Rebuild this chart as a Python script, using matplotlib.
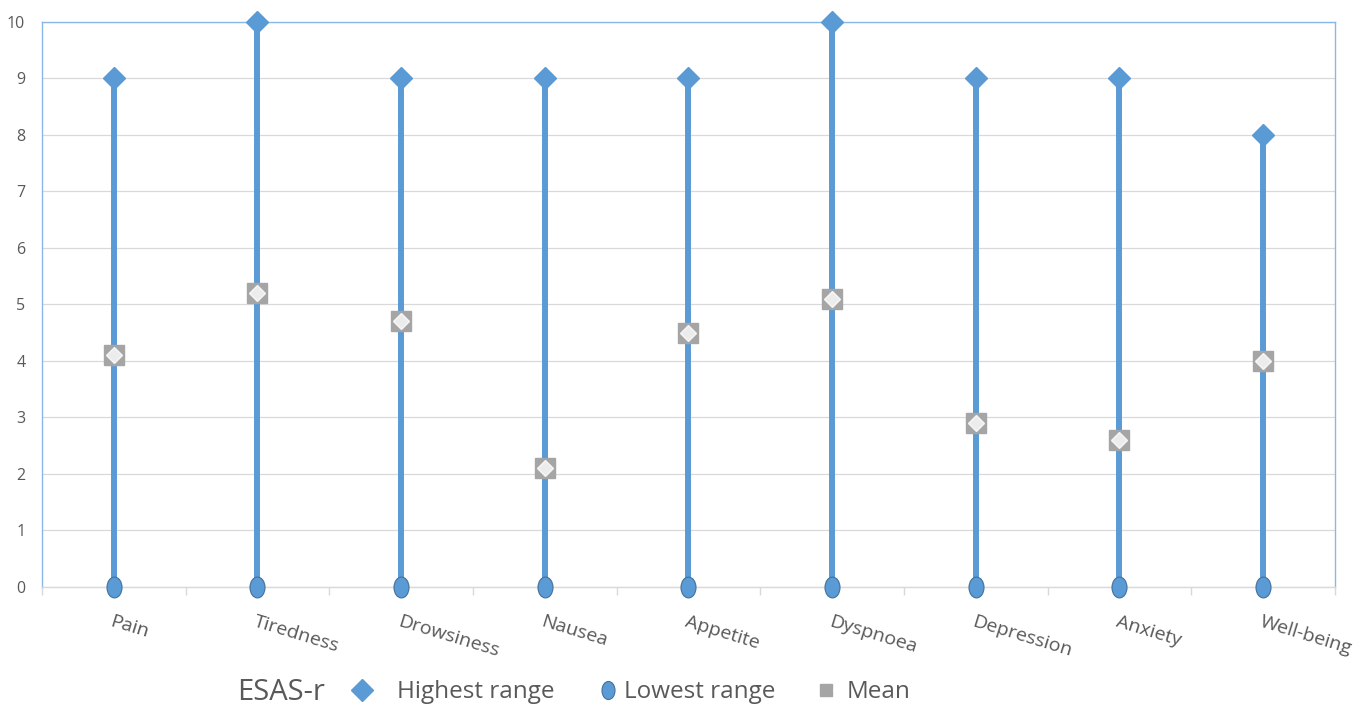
import matplotlib.pyplot as plt
import numpy as np
from matplotlib.path import Path
from matplotlib.transforms import Affine2D
from matplotlib.lines import Line2D
from matplotlib.legend_handler import HandlerTuple

symptoms = ['Pain', 'Tiredness', 'Drowsiness', 'Nausea', 'Appetite',
            'Dyspnoea', 'Depression', 'Anxiety', 'Well-being']
highest = [9, 10, 9, 9, 9, 10, 9, 9, 8]
lowest = [0, 0, 0, 0, 0, 0, 0, 0, 0]
mean = [4.1, 5.2, 4.7, 2.1, 4.5, 5.1, 2.9, 2.6, 4.0]

BLUE = '#5b9bd5'
DARK_BLUE = '#41719c'
GRAY = '#a5a5a5'
TEXT = '#595959'

plt.rcParams['font.family'] = ['Open Sans', 'DejaVu Sans']

# tall ellipse marker for the lowest value
ellipse = Path.unit_circle().transformed(Affine2D().scale(0.72, 1.0))

fig = plt.figure(figsize=(13.71, 7.05), dpi=100)
ax = fig.add_axes([0.0306, 0.1674, 0.9431, 0.8014])

x = np.arange(len(symptoms))
ax.vlines(x, lowest, highest, color=BLUE, linewidth=4.3, zorder=2)
ax.plot(x, highest, linestyle='none', marker='D', ms=11.2,
        mfc=BLUE, mec=BLUE, zorder=4, clip_on=False)
ax.plot(x, lowest, linestyle='none', marker=ellipse, ms=15,
        mfc=BLUE, mec=DARK_BLUE, mew=0.8, zorder=4, clip_on=False)
ax.plot(x, mean, linestyle='none', marker='s', ms=14,
        mfc=GRAY, mec=GRAY, zorder=5)
ax.plot(x, mean, linestyle='none', marker='D', ms=8.4,
        mfc='white', mec='white', alpha=0.8, zorder=6)

ax.set_xlim(-0.5, len(symptoms) - 0.5)
ax.set_ylim(0, 10)
ax.set_yticks(range(0, 11))
ax.grid(axis='y', color='#d9d9d9', linewidth=0.9, zorder=0)
ax.set_axisbelow(True)

for side in ['top', 'left', 'right']:
    ax.spines[side].set_color('#8ab8e6')
    ax.spines[side].set_linewidth(1.0)
ax.spines['bottom'].set_color('#d9d9d9')
ax.spines['bottom'].set_linewidth(1.0)

ax.tick_params(axis='y', length=0, pad=12, labelsize=11.5, labelcolor=TEXT)
ax.set_xticks(x)
ax.set_xticklabels([])
ax.tick_params(axis='x', which='major', length=0)
ax.set_xticks(np.arange(-0.5, len(symptoms)), minor=True)
ax.tick_params(axis='x', which='minor', length=6, color='#d9d9d9', width=1.0)

for xi, name in zip(x, symptoms):
    ax.annotate(name, xy=(xi, 0), xycoords='data', xytext=(-2, -25),
                textcoords='offset points', rotation=-17, rotation_mode='anchor',
                ha='left', va='center', fontsize=14, color=TEXT)

# legend row: title text followed by one key per series
leg_y = 0.018
fig.text(237 / 1371, leg_y, 'ESAS-r', fontsize=21, color=TEXT,
         ha='left', va='center')

keys = [
    (Line2D([], [], linestyle='none', marker='D', ms=11, mfc=BLUE, mec=BLUE),
     'Highest range', 350, 0.95),
    (Line2D([], [], linestyle='none', marker=ellipse, ms=13, mfc=BLUE,
            mec=DARK_BLUE, mew=0.8),
     'Lowest range', 596, 0.17),
    ((Line2D([], [], linestyle='none', marker='s', ms=9, mfc=GRAY, mec=GRAY),
      Line2D([], [], linestyle='none', marker='D', ms=5, mfc='white',
             mec='white')),
     'Mean', 820, 0.1),
]
for handle, label, x0, pad in keys:
    leg = fig.legend([handle], [label], loc='center left',
                     bbox_to_anchor=(x0 / 1371, leg_y), frameon=False,
                     fontsize=17.5, handlelength=1.0, handletextpad=pad,
                     borderaxespad=0, borderpad=0,
                     handler_map={tuple: HandlerTuple(ndivide=None)})
    for t in leg.get_texts():
        t.set_color(TEXT)

fig.savefig('out.png', dpi=100)
